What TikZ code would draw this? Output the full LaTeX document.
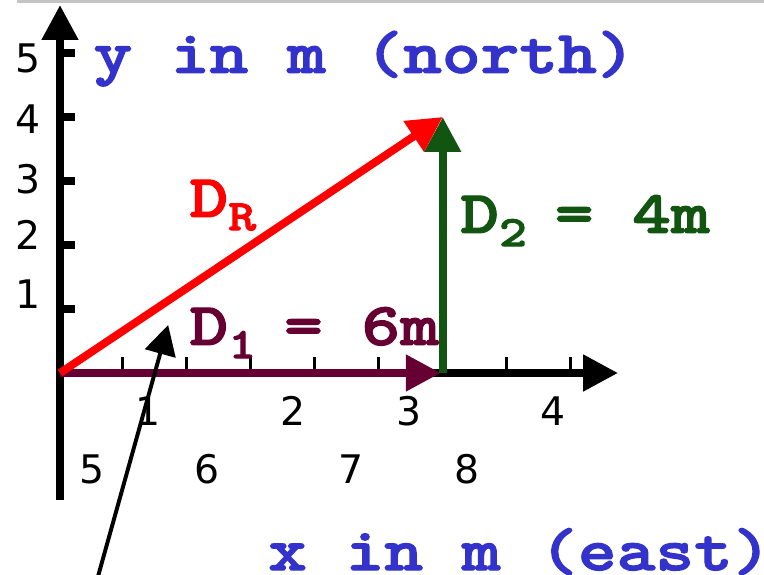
\documentclass[tikz,border=0pt]{standalone}
\usepackage{fontspec}
\newfontfamily\slabmono{lmmonolt10-bold.otf}[FakeStretch=1.22,FakeBold=2]
\newfontfamily\tickfont{DejaVu Sans}
\usetikzlibrary{arrows.meta}
\definecolor{axisblue}{HTML}{3333CC}
\definecolor{vecred}{HTML}{FF0000}
\definecolor{vecpurple}{HTML}{660033}
\definecolor{vecgreen}{HTML}{115511}
\definecolor{rulegray}{HTML}{C4C4C4}
\newcommand{\vsub}[1]{\raisebox{-0.22em}{\fontsize{31}{31}\selectfont#1\space}}
\tikzset{
  axisarr/.style={line width=5.6pt,-{Triangle[length=8.75mm,width=8.75mm]}},
  vecarr/.style={line width=5.6pt,-{Triangle[length=8.75mm,width=8.75mm]}},
  ptrarr/.style={line width=2.8pt,-{Triangle[length=7.4mm,width=7.8mm]}},
  ytickmark/.style={line width=5.7pt},
  xtickmark/.style={line width=2.5pt},
  ticklab/.style={inner sep=0pt,font=\tickfont\fontsize{28}{28}\selectfont},
  monolab/.style={inner sep=0pt,anchor=base west,font=\slabmono\fontsize{43}{43}\selectfont}
}

\begin{document}
\begin{tikzpicture}[x=1.6cm,y=1.6cm]
  \useasboundingbox (-0.9375,-3.156) rectangle (11,5.828);
  \draw[rulegray,line width=2.1pt] (-0.67,5.805) -- (11,5.805);

  \coordinate (O) at (0,0); \coordinate (E) at (5.95,0); \coordinate (T) at (5.98,4);
  \coordinate (ybot) at (0,-1.98); \coordinate (ytop) at (0,5.75); \coordinate (xend) at (8.72,0);
  \coordinate (ptail) at (0.56,-3.3); \coordinate (phead) at (1.69,0.75);

  \foreach \k in {1,...,5} \draw[ytickmark] (0,\k) -- (0.23,\k);
  \foreach \k in {1,...,8} \draw[xtickmark] (\k-0.02,0) -- (\k-0.02,0.25);
  \draw[axisarr] (ybot) -- (ytop);
  \draw[axisarr] (O) -- (xend);

  \node[ticklab] (y5) at (-0.5,4.92) {5}; \node[ticklab] (y4) at (-0.5,3.97) {4};
  \node[ticklab] (y3) at (-0.5,3.03) {3}; \node[ticklab] (y2) at (-0.5,2.16) {2};
  \node[ticklab] (y1) at (-0.5,1.23) {1};
  \node[ticklab] (x1) at (1.38,-0.59) {1}; \node[ticklab] (x2) at (3.64,-0.59) {2};
  \node[ticklab] (x3) at (5.45,-0.59) {3}; \node[ticklab] (x4) at (7.70,-0.59) {4};
  \node[ticklab] (x5) at (0.5,-1.5) {5}; \node[ticklab] (x6) at (2.30,-1.5) {6};
  \node[ticklab] (x7) at (4.55,-1.5) {7}; \node[ticklab] (x8) at (6.36,-1.5) {8};

  \draw[vecarr,vecpurple] (O) -- (E);
  \draw[vecarr,vecgreen] (E -| T) -- (T);
  \draw[vecarr,vecred] (O) -- (T);
  \draw[ptrarr] (ptail) -- (phead);

  \node[monolab,axisblue] (ytitle) at (0.52,4.69) {y in m (north)};
  \node[monolab,axisblue] (xtitle) at (3.25,-3.08) {x in m (east)};
  \node[monolab,vecred] (dr) at (2.02,2.44) {D\vsub{R}};
  \node[monolab,vecpurple] (d1) at (2.02,0.44) {D\vsub{1}= 6m};
  \node[monolab,vecgreen] (d2) at (6.25,2.19) {D\vsub{2}= 4m};
\end{tikzpicture}
\end{document}
